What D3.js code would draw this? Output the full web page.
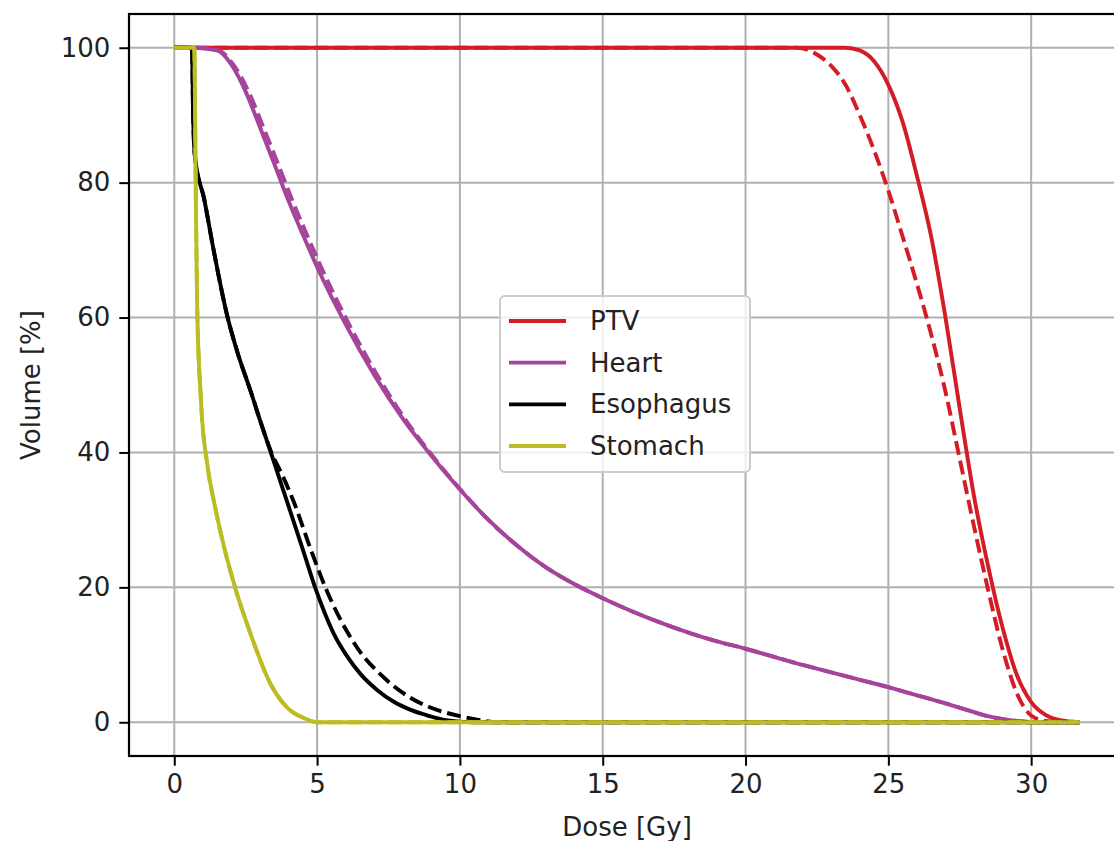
<!DOCTYPE html>
<html>
<head>
<meta charset="utf-8">
<script src="https://cdn.jsdelivr.net/npm/d3@7"></script>
<style>
  html, body { margin: 0; padding: 0; background: #fff; }
  svg { display: block; }
  text { font-family: "DejaVu Sans", sans-serif; fill: #222; }
</style>
</head>
<body>
<svg id="chart" width="1114" height="841"></svg>
<script>
// ---------- data ----------
const seriesNames = ["PTV", "Heart", "Esophagus", "Stomach"];
const seriesColors = ["#d41c26", "#a6449c", "#000000", "#bcbd22"];
const xTicks = [0, 5, 10, 15, 20, 25, 30];
const yTicks = [0, 20, 40, 60, 80, 100];
const xLabel = "Dose [Gy]";
const yLabel = "Volume [%]";

// solid = plan A, dashed = plan B ; each point [dose Gy, volume %]
const ptvSolid = [[0,100],[23.5,100],[24.0,99.6],[24.5,98],[25.0,94.5],[25.5,89],[26.0,81],[26.5,72],[27.0,60],[27.5,46.5],[28.0,33.5],[28.5,23],[29.0,14],[29.5,7],[30.0,3],[30.5,1.1],[31.0,0.3],[31.7,0]];
const ptvDashed = [[0,100],[21.8,100],[22.5,99],[23.0,97.3],[23.5,94.5],[24.0,90],[24.5,84.8],[25.0,78.8],[25.5,72],[26.0,65],[26.5,57.5],[27.0,49],[27.5,39],[28.0,29],[28.5,19.5],[29.0,10.8],[29.5,4.3],[30.0,1.0],[30.5,0.2],[31.7,0]];
const heartSolid = [[0,100],[0.7,100],[1.5,99.6],[2.0,97.5],[2.5,93.5],[3.0,88.2],[3.5,82.8],[4.0,77.3],[4.5,72.3],[5.0,67.5],[6.0,59],[7.0,51.5],[8.0,45],[9.0,39.5],[10.0,34.5],[11.0,30],[12.0,26.2],[13.0,23],[14.0,20.5],[15.0,18.4],[16.0,16.5],[17.0,14.8],[18.0,13.3],[19.0,12],[20.0,10.9],[21.0,9.7],[22.0,8.5],[23.0,7.4],[24.0,6.3],[25.0,5.2],[26.0,4.0],[27.0,2.8],[28.0,1.5],[28.6,0.8],[29.5,0.2],[30.3,0],[31.7,0]];
const heartDashed = [[0,100],[0.7,100],[1.55,99.6],[2.07,97.5],[2.6,93.5],[3.12,88.2],[3.63,82.8],[4.14,77.3],[4.64,72.3],[5.14,67.5],[6.12,59],[7.1,51.5],[8.07,45],[9.04,39.5],[10.02,34.5],[11.0,30],[12.0,26.2],[13.0,23],[14.0,20.5],[15.0,18.4],[16.0,16.5],[17.0,14.8],[18.0,13.3],[19.0,12],[20.0,10.9],[21.0,9.7],[22.0,8.5],[23.0,7.4],[24.0,6.3],[25.0,5.2],[26.0,4.0],[27.0,2.8],[28.0,1.5],[28.6,0.8],[29.5,0.2],[30.3,0],[31.7,0]];
const esoSolid = [[0,100],[0.62,100],[0.66,90],[0.72,84],[1.05,77.5],[1.4,69.5],[1.84,60.5],[2.2,55],[2.68,49],[3.0,44.8],[3.38,40],[3.8,34.6],[4.2,29.5],[4.6,24.3],[4.93,20],[5.25,16.4],[5.6,13],[6.0,10.1],[6.53,7.1],[7.1,4.8],[7.7,3.0],[8.3,1.8],[8.87,1.0],[9.4,0.4],[10.0,0.1],[10.5,0],[31.7,0]];
const esoDashed = [[0,100],[0.62,100],[0.66,90],[0.72,84],[1.05,77.5],[1.4,69.5],[1.84,60.5],[2.2,55],[2.68,49],[3.0,44.8],[3.38,40.2],[3.8,36.5],[4.2,32.5],[4.78,25.6],[5.37,19.2],[6.07,13.3],[6.6,9.9],[7.12,7.5],[7.7,5.3],[8.28,3.6],[8.9,2.3],[9.45,1.5],[10.0,0.9],[10.6,0.4],[11.3,0],[31.7,0]];
const stomSolid = [[0,100],[0.7,100],[0.75,80],[0.8,62],[0.93,48],[1.17,37.8],[1.4,32.5],[1.63,28],[2.1,20.4],[2.68,13],[3.38,5.6],[3.97,2.1],[4.55,0.6],[5.0,0],[31.7,0]];
const stomDashed = [[0,100],[0.7,100],[0.75,80],[0.8,62],[0.93,48],[1.17,37.8],[1.4,32.5],[1.63,28],[2.1,20.4],[2.68,13],[3.38,5.6],[3.97,2.1],[4.55,0.6],[5.0,0],[31.7,0]];

const solidSeries = [ptvSolid, heartSolid, esoSolid, stomSolid];
const dashedSeries = [ptvDashed, heartDashed, esoDashed, stomDashed];

// ---------- layout ----------
const svg = d3.select("#chart");
const axLeft = 129, axTop = 14, axBottom = 756, axRight = 1125;
const fontSize = 26;
const lw = 3.9;

const x = d3.scaleLinear().domain([-1.585, 33.285]).range([axLeft, axRight]);
const y = d3.scaleLinear().domain([-5.0, 105.0]).range([axBottom, axTop]);

svg.append("defs").append("clipPath").attr("id", "clip")
  .append("rect").attr("x", axLeft).attr("y", axTop)
  .attr("width", axRight - axLeft).attr("height", axBottom - axTop);

// grid
const grid = svg.append("g");
grid.selectAll("line.gx").data(xTicks).enter().append("line")
  .attr("x1", d => x(d)).attr("x2", d => x(d))
  .attr("y1", axTop).attr("y2", axBottom)
  .attr("stroke", "#b0b0b0").attr("stroke-width", 2);
grid.selectAll("line.gy").data(yTicks).enter().append("line")
  .attr("y1", d => y(d)).attr("y2", d => y(d))
  .attr("x1", axLeft).attr("x2", axRight)
  .attr("stroke", "#b0b0b0").attr("stroke-width", 2);

// curves
const line = d3.line().x(d => x(d[0])).y(d => y(d[1])).curve(d3.curveMonotoneX);
const plot = svg.append("g").attr("clip-path", "url(#clip)");
seriesNames.forEach((name, i) => {
  plot.append("path").datum(solidSeries[i])
    .attr("d", line).attr("fill", "none")
    .attr("stroke", seriesColors[i]).attr("stroke-width", lw)
    .attr("stroke-linejoin", "round");
  plot.append("path").datum(dashedSeries[i])
    .attr("d", line).attr("fill", "none")
    .attr("stroke", seriesColors[i]).attr("stroke-width", lw)
    .attr("stroke-dasharray", "14,6");
});

// axes
const xAxis = d3.axisBottom(x).tickValues(xTicks).tickSize(9.7).tickPadding(9).tickFormat(d3.format("d"));
const yAxis = d3.axisLeft(y).tickValues(yTicks).tickSize(9.7).tickPadding(9).tickFormat(d3.format("d"));
const gx = svg.append("g").attr("transform", `translate(0,${axBottom})`).call(xAxis);
const gy = svg.append("g").attr("transform", `translate(${axLeft},0)`).call(yAxis);
[gx, gy].forEach(g => {
  g.select(".domain").remove();
  g.selectAll(".tick line").attr("stroke", "#000").attr("stroke-width", 2);
  g.selectAll(".tick text").attr("font-size", fontSize).attr("font-family", "DejaVu Sans").attr("fill", "#222");
});

// spines
svg.append("rect").attr("x", axLeft).attr("y", axTop)
  .attr("width", axRight - axLeft).attr("height", axBottom - axTop)
  .attr("fill", "none").attr("stroke", "#000").attr("stroke-width", 2.2);

// axis labels
svg.append("text").attr("x", (axLeft + axRight) / 2).attr("y", 836)
  .attr("text-anchor", "middle").attr("font-size", fontSize).text(xLabel);
svg.append("text").attr("transform", `translate(40,${(axTop + axBottom) / 2}) rotate(-90)`)
  .attr("text-anchor", "middle").attr("font-size", fontSize).text(yLabel);

// legend
const legW = 250, legH = 176;
const legX = 500, legY = 296;
const leg = svg.append("g");
leg.append("rect").attr("x", legX).attr("y", legY).attr("width", legW).attr("height", legH)
  .attr("rx", 5).attr("fill", "#fff").attr("fill-opacity", 0.8)
  .attr("stroke", "#cccccc").attr("stroke-width", 2);
const rowY = d3.scaleLinear().domain([0, 3]).range([legY + 25, legY + 150]);
seriesNames.forEach((name, i) => {
  leg.append("line").attr("x1", legX + 9).attr("x2", legX + 66)
    .attr("y1", rowY(i)).attr("y2", rowY(i))
    .attr("stroke", seriesColors[i]).attr("stroke-width", lw);
  leg.append("text").attr("x", legX + 90).attr("y", rowY(i))
    .attr("dy", "0.35em").attr("font-size", fontSize).text(name);
});
</script>
</body>
</html>
